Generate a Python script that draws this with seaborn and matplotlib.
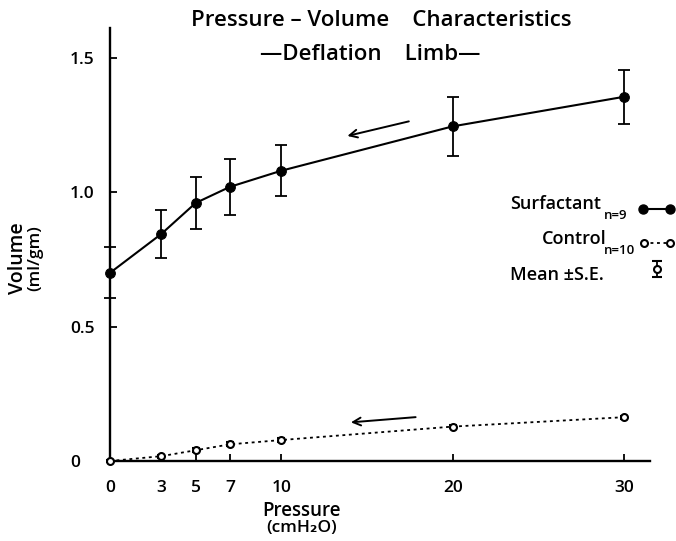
import numpy as np
import matplotlib
matplotlib.use("Agg")
import matplotlib.pyplot as plt
from matplotlib.lines import Line2D
import seaborn as sns
import pandas as pd

# Deflation limb: volume (ml/gm) at each pressure step (cmH2O)
pressure = [0, 3, 5, 7, 10, 20, 30]
surfactant_mean = [0.70, 0.845, 0.96, 1.02, 1.08, 1.245, 1.355]
surfactant_se = [0.095, 0.09, 0.097, 0.104, 0.095, 0.11, 0.10]
control_mean = [0.0, 0.018, 0.04, 0.062, 0.078, 0.128, 0.163]
control_se = [0.004, 0.006, 0.008, 0.007, 0.006, 0.007, 0.006]

x_ticks = [0, 3, 5, 7, 10, 20, 30]
x_tick_labels = ["0", "3", "5", "7", "10", "20", "30"]
y_ticks = [0, 0.5, 1.0, 1.5]
y_tick_labels = ["0", "0.5", "1.0", "1.5"]

sns.set_style("ticks")
plt.rcParams["font.family"] = ["Open Sans", "DejaVu Sans"]
plt.rcParams["font.weight"] = "semibold"
plt.rcParams["text.color"] = "black"

W, H = 676, 541
fig = plt.figure(figsize=(W / 100, H / 100), dpi=100)
ax = fig.add_axes([110 / W, 1 - 461 / H, 540 / W, 433 / H])

df_s = pd.DataFrame({"p": pressure, "v": surfactant_mean})
df_c = pd.DataFrame({"p": pressure, "v": control_mean})

ink = "black"
sns.lineplot(data=df_s, x="p", y="v", ax=ax, color=ink, lw=1.5,
             marker="o", markersize=7, markeredgecolor=ink,
             markerfacecolor=ink, clip_on=False, zorder=4)
ax.errorbar(pressure, surfactant_mean, yerr=surfactant_se, fmt="none",
            ecolor=ink, elinewidth=1.3, capsize=4, capthick=1.3,
            clip_on=False, zorder=3)

sns.lineplot(data=df_c, x="p", y="v", ax=ax, color=ink, lw=1.3,
             linestyle=(0, (1.6, 2.0)), marker="o", markersize=5,
             markeredgecolor=ink, markerfacecolor="white",
             markeredgewidth=1.5, clip_on=False, zorder=4)
ax.errorbar(pressure, control_mean, yerr=control_se, fmt="none",
            ecolor=ink, elinewidth=1.2, capsize=3, capthick=1.5,
            clip_on=False, zorder=3)

# direction arrows along each curve
arrow_kw = dict(arrowstyle="->", color=ink, lw=1.4, mutation_scale=14)
ax.annotate("", xy=(13.7, 1.207), xytext=(17.6, 1.266), arrowprops=arrow_kw)
ax.annotate("", xy=(13.9, 0.143), xytext=(18.0, 0.164), arrowprops=arrow_kw)

ax.set_xlim(0, 31.52)
ax.set_ylim(0, 1.611)
ax.set_xticks(x_ticks)
ax.set_xticklabels(x_tick_labels)
ax.set_yticks(y_ticks)
ax.set_yticklabels(y_tick_labels)
ax.set_xlabel("")
ax.set_ylabel("")
sns.despine(ax=ax)
for s in ("left", "bottom"):
    ax.spines[s].set_linewidth(1.7)
    ax.spines[s].set_color(ink)
ax.tick_params(axis="both", direction="in", length=5, width=1.3,
               colors=ink, labelsize=12.5)
ax.tick_params(axis="y", pad=28.8)
ax.tick_params(axis="x", pad=14)
for lab in ax.get_yticklabels() + ax.get_xticklabels():
    lab.set_fontweight("semibold")
for lab in ax.get_yticklabels():
    lab.set_horizontalalignment("left")


def fx(px):
    return px / W


def fy(py):
    return 1 - py / H


# titles
fig.text(fx(381), fy(21), "Pressure \u2013 Volume    Characteristics",
         ha="center", va="center", fontsize=16)
fig.text(fx(370), fy(55), "\u2014Deflation    Limb\u2014",
         ha="center", va="center", fontsize=16)

# axis titles
fig.text(fx(18), fy(258), "Volume", rotation=90, ha="center",
         va="center", fontsize=14)
fig.text(fx(35), fy(258), "(ml/gm)", rotation=90, ha="center",
         va="center", fontsize=12.5)
fig.text(fx(301), fy(511), "Pressure", ha="center", va="center",
         fontsize=13.5)
fig.text(fx(302), fy(528), "(cmH\u2082O)", ha="center", va="center",
         fontsize=12.5)

# key
fig.text(fx(510), fy(204), "Surfactant", ha="left", va="center", fontsize=13)
fig.text(fx(604), fy(216), "n=9", ha="left", va="center", fontsize=9.5)
fig.text(fx(542), fy(239), "Control", ha="left", va="center", fontsize=13)
fig.text(fx(604), fy(251), "n=10", ha="left", va="center", fontsize=9.5)
fig.text(fx(510), fy(275), "Mean \u00b1S.E.", ha="left", va="center",
         fontsize=13)

tf = fig.transFigure
fig.add_artist(Line2D([fx(643), fx(670)], [fy(209), fy(209)], transform=tf,
                      color=ink, lw=1.5, marker="o", markersize=6.5,
                      markerfacecolor=ink))
fig.add_artist(Line2D([fx(644), fx(670)], [fy(243), fy(243)], transform=tf,
                      color=ink, lw=1.3, linestyle=(0, (1.6, 2.0)),
                      marker="o", markersize=5, markerfacecolor="white",
                      markeredgewidth=1.5))
fig.add_artist(Line2D([fx(657), fx(657)], [fy(261), fy(277)], transform=tf,
                      color=ink, lw=1.3))
fig.add_artist(Line2D([fx(657), fx(657)], [fy(261), fy(277)], transform=tf,
                      color=ink, lw=0, marker="_", markersize=7,
                      markeredgewidth=1.5))
fig.add_artist(Line2D([fx(657)], [fy(269)], transform=tf, color=ink, lw=0,
                      marker="o", markersize=5, markerfacecolor="white",
                      markeredgewidth=1.5))

fig.savefig("out.png", dpi=100, facecolor="white")
